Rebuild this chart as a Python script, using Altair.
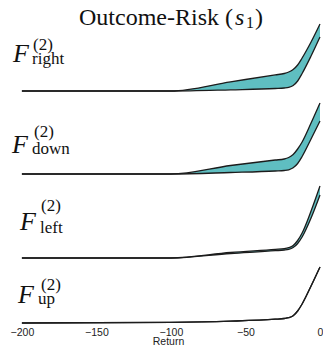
import altair as alt
import pandas as pd

# Return grid shared by every panel
returns = [-200, -100, -60, -30, -24, -21, -18, -15, -12, -6, 0]

# Lower / upper curves for each action (values in plot units above the panel baseline)
right_upper = [0, 0, 9.2, 16.1, 17.5, 19, 21.5, 26, 33, 49, 67]
right_lower = [0, 0, 1.2, 2.5, 3, 3.6, 5.5, 10, 17.5, 35, 54]
down_upper = [0, 0, 8.5, 14, 15, 16.5, 19.5, 25, 32, 51, 71]
down_lower = [0, 0, 1.5, 3, 3.5, 4.2, 6.2, 10.5, 17.5, 35, 53]
left_upper = [0, 0, 5.5, 8.6, 9.3, 10.3, 12.5, 17.5, 25, 47, 72]
left_lower = [0, 0, 4.5, 7.3, 8, 8.7, 10.5, 14.5, 21, 40, 63]
up_upper = [0, 0.6, 1.8, 3.8, 4.5, 5.3, 7.3, 12, 19, 37, 56]
up_lower = [0, 0.6, 1.8, 3.8, 4.5, 5.3, 7.3, 12, 19, 37, 56]

actions = ["right", "down", "left", "up"]
tick_values = [-200, -150, -100, -50, 0]

FILL = "#5fbec1"
LINE = "#1c1c1c"
SERIF = "Liberation Serif"
SANS = "Liberation Sans"
WIDTH = 313

# per-panel layout: height, and label anchors (F, superscript, subscript)
panels = [
    dict(name="right", upper=right_upper, lower=right_lower, h=89,
         F=(6, 60), sup=(26, 48), sub=(25, 62)),
    dict(name="down", upper=down_upper, lower=down_lower, h=83,
         F=(5, 62), sup=(27, 46), sub=(25, 63)),
    dict(name="left", upper=left_upper, lower=left_lower, h=84,
         F=(13, 56), sup=(34, 37), sub=(33, 59)),
    dict(name="up", upper=up_upper, lower=up_lower, h=65,
         F=(11, 45), sup=(34, 32), sub=(31, 46)),
]


def text_layer(txt, x, y, size, style="normal", align="left", font=SERIF):
    return alt.Chart(pd.DataFrame({"label": [txt]})).mark_text(
        font=font, fontSize=size, fontStyle=style, align=align,
        baseline="alphabetic", color="#111"
    ).encode(text="label:N", x=alt.value(x), y=alt.value(y))


charts = []
for i, p in enumerate(panels):
    df = pd.DataFrame({"ret": returns, "upper": p["upper"], "lower": p["lower"]})
    last = i == len(panels) - 1
    if last:
        xaxis = alt.Axis(values=tick_values, ticks=False, tickSize=0, domain=False,
                         grid=False, labelPadding=4, labelFlush=False, labelFont=SANS,
                         labelFontSize=10.5, labelColor="#222", title="Return",
                         titleFont=SANS, titleFontSize=10.5, titleFontWeight="normal",
                         titleColor="#222", titleX=161, titleY=21,
                         titleBaseline="alphabetic")
    else:
        xaxis = None
    xenc = alt.X("ret:Q", scale=alt.Scale(domain=[-210, 0], nice=False), axis=xaxis)
    yscale = alt.Scale(domain=[0, p["h"]], nice=False, zero=False)
    base = alt.Chart(df)
    area = base.mark_area(interpolate="monotone", color=FILL, opacity=1).encode(
        x=xenc, y=alt.Y("upper:Q", scale=yscale, axis=None), y2="lower:Q")
    up_line = base.mark_line(interpolate="monotone", color=LINE, strokeWidth=1.3).encode(
        x=xenc, y=alt.Y("upper:Q", scale=yscale, axis=None))
    lo_line = base.mark_line(interpolate="monotone", color=LINE, strokeWidth=1.3).encode(
        x=xenc, y=alt.Y("lower:Q", scale=yscale, axis=None))
    layers = [area, up_line, lo_line,
              text_layer("F", p["F"][0], p["F"][1], 26, style="italic"),
              text_layer("(2)", p["sup"][0], p["sup"][1], 17),
              text_layer(p["name"], p["sub"][0], p["sub"][1], 17)]
    if i == 0:
        layers += [
            text_layer("Outcome-Risk (", 226, 23, 24, align="right"),
            text_layer("s", 228, 23, 24, style="italic"),
            text_layer("1", 239, 26, 16),
            text_layer(")", 248, 23, 24),
        ]
    charts.append(alt.layer(*layers).properties(width=WIDTH, height=p["h"]))

chart = alt.vconcat(*charts, spacing=0, bounds="flush").resolve_scale(
    y="independent"
).properties(
    padding={"left": 7, "top": 2, "right": 0, "bottom": 0}
).configure_view(stroke=None)

chart.save("out.html", embed_options={"renderer": "svg", "actions": False})
